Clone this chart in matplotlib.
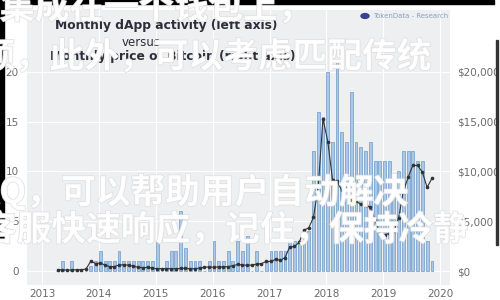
import numpy as np
import pandas as pd
import matplotlib
matplotlib.use("Agg")
import matplotlib.pyplot as plt
import matplotlib.dates as mdates
import matplotlib.patheffects as pe
from matplotlib.patches import Rectangle

plt.rcParams['font.family'] = ['DejaVu Sans', 'Noto Sans CJK SC']

# monthly data, Apr 2013 .. Nov 2019
months = pd.date_range('2013-04-01', '2019-11-01', freq='MS')

activity = [0, 1, 0, 1, 0, 0, 0, 0.5, 1,                       # 2013
            2, 1, 1, 1, 2, 1, 1, 1, 1, 1, 1, 1,                 # 2014
            3, 0, 1, 2, 2, 6, 2.3, 1, 1, 1, 0, 1,               # 2015
            3, 1, 1, 2, 1, 3, 2, 3.5, 0, 2, 0, 1,               # 2016
            2, 2, 2, 2, 3, 3, 3, 4, 4, 12, 16, 15.5,            # 2017
            20, 13, 21, 14, 13, 18, 13, 12.5, 12, 13, 11, 11,   # 2018
            11, 11, 8.8, 10, 12, 12, 12, 11, 11, 3, 1]          # 2019

btc_price = [140, 130, 100, 105, 135, 135, 200, 1000, 750,
             800, 600, 450, 450, 600, 640, 590, 480, 390, 340, 380, 320,
             220, 250, 245, 235, 230, 265, 285, 230, 235, 315, 380, 430,
             370, 435, 415, 450, 530, 670, 625, 575, 610, 700, 745, 960,
             970, 1190, 1070, 1350, 2400, 2480, 2870, 4100, 4340, 5400, 8500, 15300,
             13000, 9100, 9000, 8100, 8300, 7100, 7000, 6700, 6600, 6400, 5100, 3800,
             3600, 3800, 4000, 5300, 8000, 9400, 10600, 10600, 9900, 8400, 9300]

left_ticks = [0, 5, 10, 15, 20]
right_ticks = [0, 5000, 10000, 15000, 20000]
right_labels = ['$0', '$5,000', '$10,000', '$15,000', '$20,000']

overlay_lines = [
    ('集成在一个钱包上，', 0, 8),
    ('额，此外，可以考虑匹配传统', -20, 57),
    ('FAQ，可以帮助用户自动解决', -43, 192),
    ('客服快速响应，记住，保持冷静', -18, 230),
]

fig = plt.figure(figsize=(5, 3), dpi=100)
fig.patch.set_facecolor('white')
ax = fig.add_axes([27/500, 15/300, 423/500, 275/300])
ax.set_facecolor('#eeeff1')
for s in ax.spines.values():
    s.set_visible(False)

ax.bar(months, activity, width=18, color='#a9c8e6', edgecolor='#6f99c6',
       linewidth=0.5, align='edge', zorder=2)
ax.set_ylim(-1.4, 26.2)
ax.set_yticks(left_ticks)
ax.grid(True, color='white', linewidth=0.8, zorder=0)
ax.set_axisbelow(True)
ax.tick_params(axis='both', length=0, labelsize=7.5, colors='#6a6a6a')
ax.tick_params(axis='y', pad=6)
ax.tick_params(axis='x', pad=3)
ax.set_xlim(pd.Timestamp('2012-09-26'), pd.Timestamp('2020-03-05'))
ax.xaxis.set_major_locator(mdates.YearLocator())
ax.xaxis.set_major_formatter(mdates.DateFormatter('%Y'))

ax2 = ax.twinx()
for s in ax2.spines.values():
    s.set_visible(False)
ax2.plot(months + pd.Timedelta(days=9), btc_price, color='#333333', linewidth=0.8,
         marker='o', markersize=1.6, zorder=3)
ax2.set_ylim(-1400, 26200)
ax2.set_yticks(right_ticks)
ax2.set_yticklabels(right_labels)
ax2.tick_params(axis='y', length=0, labelsize=7.5, colors='#6a6a6a', pad=5)

# title
fig.text(55/500, 1 - 25/300, 'Monthly dApp activity (left axis)', fontsize=8.8,
         fontweight='bold', color='#2e2e3a', ha='left', va='center')
fig.text(141/500, 1 - 42/300, 'versus', fontsize=8.5, color='#2e2e3a',
         ha='center', va='center')
fig.text(50/500, 1 - 57/300, 'Monthly price of Bitcoin (right axis)', fontsize=8.8,
         fontweight='bold', color='#2e2e3a', ha='left', va='center')

# watermark
fig.patches.append(plt.Circle((365/500, 1 - 16/300), 4/500, transform=fig.transFigure,
                              color='#3b3f8f', zorder=2))
fig.text(373/500, 1 - 16/300, 'TokenData - Research', fontsize=5, color='#8fa0c0',
         ha='left', va='center')

# screenshot frame
fig.patches.append(Rectangle((0, 1 - 4/300), 494/500, 4/300, transform=fig.transFigure,
                             color='black', zorder=1))
fig.patches.append(Rectangle((0, 1 - 240/300), 4/500, 240/300, transform=fig.transFigure,
                             color='black', zorder=1))
fig.patches.append(Rectangle((496/500, 1 - 245/300), 2/500, 205/300, transform=fig.transFigure,
                             color='#333333', zorder=1))

# overlaid chinese text
for txt, x, y in overlay_lines:
    fig.text(x/500, 1 - y/300, txt, fontsize=25, fontweight='bold', color='white',
             family=['Noto Sans CJK SC', 'DejaVu Sans'], ha='left', va='center', alpha=0.92,
             path_effects=[pe.withStroke(linewidth=1.0, foreground='#dcdcdc')], zorder=5)

fig.savefig('out.png', dpi=100)
